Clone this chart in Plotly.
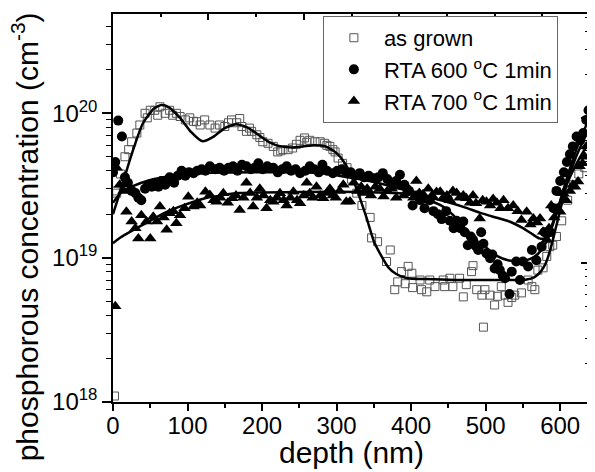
import plotly.graph_objects as go

# ---------------- data ----------------
grown_depth = [2, 3, 5, 10, 16, 21, 25, 32, 36, 43, 46, 50, 56, 60, 63, 70, 76, 80, 85, 90, 97, 103, 108,
               112, 117, 123, 130, 137, 143, 150, 155, 159, 166, 170, 173, 179, 183, 186, 193, 197, 201,
               208, 215, 221, 225, 228, 235, 241, 246, 251, 257, 260, 264, 271, 278, 284, 287, 291, 295,
               298, 302, 308, 314, 320, 327, 334, 345, 347, 355, 367, 372, 378, 382, 387, 392, 396, 401,
               402, 412, 414, 421, 425, 432, 443, 445, 452, 456, 465, 470, 474, 481, 483, 488, 495, 497,
               499, 506, 512, 516, 521, 526, 530, 535, 539, 548, 557, 562, 566, 570, 577, 582, 586, 590,
               595, 602, 610, 618, 625, 633]
grown_conc = [1.1e18, 2.9e19, 2.8e19, 3.8e19, 5.0e19, 5.6e19, 6.35e19, 7.3e19, 8.3e19, 1.0e20, 9.3e19,
              1.05e20, 1.05e20, 9.7e19, 1.11e20, 1.0e20, 1.05e20, 9.7e19, 1.0e20, 9.5e19, 9.0e19, 9.3e19,
              8.8e19, 8.75e19, 8.3e19, 9.0e19, 8.3e19, 7.9e19, 8.3e19, 8.1e19, 8.6e19, 9.0e19, 8.6e19,
              9.2e19, 8.1e19, 7.5e19, 7.9e19, 7.5e19, 7.1e19, 6.8e19, 6.35e19, 6.2e19, 5.9e19, 5.4e19,
              5.5e19, 5.6e19, 5.6e19, 5.75e19, 6.1e19, 6.5e19, 6.75e19, 6.3e19, 6.5e19, 6.35e19, 6.35e19,
              6.2e19, 6.0e19, 5.9e19, 5.6e19, 5.4e19, 4.9e19, 4.5e19, 4.2e19, 3.5e19, 2.8e19, 2.3e19,
              1.9e19, 1.37e19, 1.29e19, 9.4e18, 1.13e19, 6.0e18, 6.8e18, 8.0e18, 6.6e18, 8.7e18, 7.8e18,
              6.2e18, 7.0e18, 6.0e18, 5.8e18, 7.0e18, 6.3e18, 7.0e18, 6.3e18, 7.2e18, 6.3e18, 7.2e18,
              5.35e18, 6.5e18, 8.0e18, 8.8e18, 6.0e18, 5.5e18, 3.3e18, 6.0e18, 5.5e18, 4.7e18, 5.4e18,
              6.3e18, 5.5e18, 4.9e18, 5.3e18, 5.5e18, 5.7e18, 7.0e18, 6.3e18, 6.0e18, 8.2e18, 8.5e18,
              1.02e19, 1.19e19, 1.22e19, 1.4e19, 1.8e19, 2.5e19, 3.2e19, 3.8e19, 4.2e19]

rta600_depth = [0, 3, 7, 12, 16, 20, 25, 30, 34, 38, 43, 47, 52, 56, 61, 65, 70, 76, 82, 87, 92, 97, 102,
                108, 113, 119, 124, 130, 137, 143, 149, 155, 161, 167, 173, 179, 185, 190, 195, 201, 207,
                215, 221, 227, 233, 239, 245, 251, 258, 264, 270, 276, 281, 287, 295, 301, 307, 313, 319,
                325, 331, 337, 343, 350, 356, 362, 368, 374, 380, 385, 391, 397, 402, 407, 412, 418, 425,
                430, 436, 441, 447, 452, 457, 461, 466, 470, 472, 476, 480, 483, 487, 490, 494, 497, 501,
                506, 509, 512, 516, 519, 523, 526, 532, 535, 541, 546, 550, 557, 562, 568, 575, 579, 586,
                591, 595, 600, 605, 609, 613, 617, 622, 627, 631, 635, 638]
rta600_conc = [3.9e19, 4.6e19, 8.9e19, 6.9e19, 3.6e19, 3.3e19, 2.9e19, 2.8e19, 2.6e19, 2.5e19, 3.0e19,
               3.2e19, 3.1e19, 3.3e19, 3.1e19, 3.4e19, 3.2e19, 3.6e19, 3.3e19, 3.7e19, 4.0e19, 3.7e19,
               3.9e19, 3.85e19, 4.0e19, 4.1e19, 4.0e19, 4.3e19, 4.1e19, 4.2e19, 4.0e19, 4.2e19, 4.3e19,
               4.0e19, 4.4e19, 4.3e19, 4.1e19, 4.2e19, 4.5e19, 4.1e19, 4.3e19, 4.2e19, 3.9e19, 4.1e19,
               4.3e19, 4.0e19, 4.1e19, 3.85e19, 4.0e19, 4.3e19, 4.1e19, 3.9e19, 4.4e19, 4.0e19, 3.85e19,
               4.0e19, 4.1e19, 3.85e19, 3.9e19, 3.7e19, 3.85e19, 3.6e19, 3.7e19, 3.55e19, 3.6e19, 3.85e19,
               3.5e19, 3.3e19, 3.4e19, 3.75e19, 3.2e19, 2.9e19, 2.3e19, 2.7e19, 2.5e19, 2.2e19, 2.5e19,
               2.1e19, 2.0e19, 1.85e19, 2.1e19, 1.8e19, 1.6e19, 1.8e19, 1.6e19, 1.78e19, 1.5e19, 1.22e19,
               1.4e19, 1.33e19, 1.2e19, 1.13e19, 1.5e19, 1.25e19, 1.07e19, 9.9e18, 1.05e19, 8.4e18, 9.0e18,
               8.2e18, 7.5e18, 7.2e18, 5.6e18, 8.0e18, 9.4e18, 7.0e18, 9.4e18, 8.7e18, 1.13e19, 9.6e18,
               1.19e19, 1.5e19, 1.5e19, 2.2e19, 2.9e19, 3.4e19, 3.9e19, 4.6e19, 5.2e19, 5.9e19, 6.9e19,
               6.5e19, 7.3e19, 9.0e19, 1.05e20]

rta700_depth = [3, 5, 9, 14, 18, 25, 30, 34, 38, 45, 50, 54, 59, 63, 68, 72, 76, 81, 85, 90, 96, 101, 108,
                113, 117, 124, 130, 135, 139, 144, 148, 154, 160, 165, 170, 175, 179, 184, 188, 193, 197,
                202, 206, 211, 215, 220, 224, 229, 233, 238, 242, 247, 251, 256, 260, 264, 268, 273, 278,
                282, 287, 291, 295, 299, 304, 309, 313, 318, 323, 328, 333, 336, 341, 346, 352, 358, 363,
                368, 374, 380, 385, 390, 398, 403, 407, 411, 416, 420, 423, 428, 434, 439, 443, 448, 452,
                456, 461, 465, 470, 474, 479, 483, 487, 492, 496, 501, 506, 510, 515, 520, 524, 530, 537,
                543, 548, 555, 560, 564, 569, 573, 577, 582, 585, 588, 592, 596, 600, 604, 608, 613, 617,
                620, 624, 626, 630, 633, 635]
rta700_conc = [4.6e18, 4.2e19, 3.2e19, 2.9e19, 2.08e19, 1.78e19, 1.6e19, 1.36e19, 1.97e19, 1.78e19,
               1.36e19, 1.92e19, 1.78e19, 2.26e19, 1.9e19, 1.56e19, 2.03e19, 2.1e19, 1.73e19, 1.97e19,
               2.2e19, 2.64e19, 2.26e19, 2.4e19, 2.3e19, 2.86e19, 2.72e19, 2.5e19, 2.44e19, 2.6e19,
               2.79e19, 2.4e19, 2.58e19, 2.7e19, 2.14e19, 2.6e19, 3.3e19, 2.8e19, 2.26e19, 2.6e19, 3.0e19,
               2.7e19, 2.2e19, 2.5e19, 2.44e19, 2.6e19, 2.79e19, 2.5e19, 2.3e19, 2.6e19, 2.86e19, 2.5e19,
               2.38e19, 2.7e19, 3.3e19, 2.79e19, 2.6e19, 3.1e19, 2.7e19, 2.58e19, 2.8e19, 3.0e19, 2.7e19,
               2.6e19, 2.9e19, 3.2e19, 2.44e19, 2.45e19, 3.3e19, 2.9e19, 3.1e19, 2.8e19, 3.0e19, 2.7e19,
               3.1e19, 3.0e19, 2.65e19, 2.9e19, 3.0e19, 2.6e19, 3.1e19, 2.7e19, 2.94e19, 2.6e19, 3.4e19,
               2.8e19, 2.75e19, 2.5e19, 3.0e19, 2.7e19, 2.85e19, 2.86e19, 2.6e19, 2.7e19, 2.5e19, 2.9e19,
               2.8e19, 2.6e19, 2.7e19, 2.58e19, 2.4e19, 2.7e19, 2.38e19, 1.87e19, 2.5e19, 2.44e19, 2.3e19,
               2.55e19, 2.4e19, 2.2e19, 2.5e19, 2.2e19, 2.3e19, 2.1e19, 1.82e19, 2.08e19, 1.7e19, 1.87e19,
               1.75e19, 1.87e19, 1.51e19, 1.33e19, 1.6e19, 2.3e19, 1.9e19, 2.2e19, 2.08e19, 2.79e19, 2.5e19,
               2.9e19, 3.2e19, 3.1e19, 3.37e19, 4.3e19, 4.5e19, 5.0e19, 5.9e19]

fit_grown_depth = [0, 7, 14, 25, 40, 55, 65, 75, 90, 105, 120, 135, 150, 165, 180, 195, 210, 225, 240, 255,
                   270, 285, 300, 310, 320, 330, 340, 350, 360, 370, 380, 395, 420, 460, 500, 540, 555, 565,
                   573, 580, 586, 592, 597, 602, 610, 620, 630, 640]
fit_grown_conc = [2.0e19, 2.6e19, 3.4e19, 5.2e19, 8.5e19, 1.08e20, 1.14e20, 1.1e20, 9.3e19, 7.4e19, 6.4e19,
                  6.9e19, 7.9e19, 8.4e19, 8.0e19, 7.1e19, 6.3e19, 5.9e19, 5.8e19, 5.9e19, 6.0e19, 5.9e19,
                  5.3e19, 4.6e19, 3.7e19, 2.7e19, 1.9e19, 1.3e19, 1.03e19, 8.5e18, 7.7e18, 7.2e18, 7.1e18,
                  7.0e18, 7.0e18, 7.0e18, 7.05e18, 7.3e18, 7.9e18, 9.0e18, 1.1e19, 1.45e19, 1.85e19,
                  2.35e19, 3.4e19, 4.8e19, 6.3e19, 8.0e19]

fit600_depth = [0, 10, 25, 50, 80, 120, 200, 280, 330, 360, 390, 412, 440, 455, 470, 485, 500, 515, 530,
                545, 560, 570, 578, 585, 591, 597, 603, 610, 620, 630, 640]
fit600_conc = [2.4e19, 2.8e19, 3.1e19, 3.45e19, 3.7e19, 3.85e19, 3.9e19, 3.85e19, 3.5e19, 3.25e19,
               2.95e19, 2.65e19, 2.3e19, 2.0e19, 1.65e19, 1.35e19, 1.18e19, 1.03e19, 9.6e18, 9.4e18,
               9.8e18, 1.06e19, 1.2e19, 1.42e19, 1.75e19, 2.2e19, 2.8e19, 3.7e19, 5.3e19, 7.2e19, 9.5e19]

fit700_depth = [0, 10, 27, 50, 70, 94, 120, 145, 170, 250, 330, 400, 440, 470, 492, 510, 532, 550, 563,
                572, 579, 585, 591, 597, 604, 615, 625, 640]
fit700_conc = [1.26e19, 1.38e19, 1.55e19, 1.8e19, 2.05e19, 2.3e19, 2.55e19, 2.7e19, 2.8e19, 2.85e19,
               2.85e19, 2.75e19, 2.5e19, 2.25e19, 2.05e19, 1.92e19, 1.78e19, 1.6e19, 1.45e19, 1.36e19,
               1.36e19, 1.5e19, 1.8e19, 2.2e19, 2.8e19, 3.8e19, 4.8e19, 6.5e19]

series_names = ["as grown", "RTA 600 <sup>o</sup>C 1min", "RTA 700 <sup>o</sup>C 1min"]
y_tickvals = [1e18, 1e19, 1e20]
y_ticktext = ["10<sup>18</sup>", "10<sup>19</sup>", "10<sup>20</sup>"]
x_title = "depth (nm)"
y_title = "phosphorous concentration (cm<sup>-3</sup>)"

# ---------------- figure ----------------
FONT = "Liberation Sans, Arial, sans-serif"
fig = go.Figure()

fig.add_trace(go.Scatter(x=grown_depth, y=grown_conc, mode="markers", name=series_names[0],
                         marker=dict(symbol="square-open", size=8, color="#555555",
                                     line=dict(width=1, color="#555555"))))
fig.add_trace(go.Scatter(x=rta600_depth, y=rta600_conc, mode="markers", name=series_names[1],
                         marker=dict(symbol="circle", size=10, color="black")))
fig.add_trace(go.Scatter(x=rta700_depth, y=rta700_conc, mode="markers", name=series_names[2],
                         marker=dict(symbol="triangle-up", size=11, color="black")))

for fx, fy in [(fit_grown_depth, fit_grown_conc), (fit600_depth, fit600_conc), (fit700_depth, fit700_conc)]:
    fig.add_trace(go.Scatter(x=fx, y=fy, mode="lines", showlegend=False, hoverinfo="skip",
                             line=dict(color="black", width=2.5, shape="spline", smoothing=0.6)))

# invisible trace to activate the mirror axes (top / right)
fig.add_trace(go.Scatter(x=[None], y=[None], xaxis="x2", yaxis="y2", showlegend=False))

YR = [18, 20.688]
fig.update_layout(
    width=587, height=464,
    margin=dict(l=105, r=5, t=6, b=70),
    paper_bgcolor="white", plot_bgcolor="white",
    font=dict(family=FONT, color="black"),
    showlegend=True,
    legend=dict(x=0.44, y=0.995, xanchor="left", yanchor="top",
                bgcolor="white", bordercolor="#666666", borderwidth=1,
                font=dict(size=22, family=FONT), tracegroupgap=0, itemwidth=50),
    xaxis=dict(range=[0, 640], automargin=False, showline=True, linecolor="black", linewidth=1.5,
               ticks="outside", ticklen=7, tickwidth=1.5, tickcolor="black",
               tick0=0, dtick=100, showgrid=False, zeroline=False, ticklabelstandoff=-6,
               tickfont=dict(size=24, family=FONT),
               minor=dict(ticks="outside", ticklen=4, tickwidth=1.5, tickcolor="black", dtick=50,
                          showgrid=False)),
    yaxis=dict(type="log", range=YR, automargin=False, showline=True, linecolor="black", linewidth=1.5,
               ticks="outside", ticklen=9, tickwidth=1.5, tickcolor="black",
               tickvals=y_tickvals, ticktext=y_ticktext, showgrid=False, zeroline=False,
               tickfont=dict(size=24, family=FONT),
               minor=dict(ticks="outside", ticklen=5, tickwidth=1.2, tickcolor="black",
                          dtick="D1", showgrid=False)),
    xaxis2=dict(overlaying="x", side="top", range=[0, 640], automargin=False, showline=True,
                linecolor="black", linewidth=1.5, ticks="inside", ticklen=6, tickwidth=1.5,
                tickcolor="black", tick0=0, dtick=128, showticklabels=False, showgrid=False,
                zeroline=False,
                minor=dict(ticks="inside", ticklen=3, tickwidth=1.5, tickcolor="black", dtick=64,
                           showgrid=False)),
    yaxis2=dict(overlaying="y", side="right", type="log", range=[18.035, 20.722], automargin=False,
                showline=True, linecolor="black", linewidth=1.5, ticks="inside", ticklen=9,
                tickwidth=1.5, tickcolor="black", tickvals=y_tickvals, showticklabels=False,
                showgrid=False, zeroline=False,
                minor=dict(ticks="inside", ticklen=5, tickwidth=1.2, tickcolor="black",
                           dtick="D1", showgrid=False)),
    annotations=[
        dict(text=x_title, xref="paper", yref="paper", x=0.5, y=-0.131, xanchor="center",
             yanchor="middle", showarrow=False, font=dict(size=30, family=FONT)),
        dict(text=y_title, xref="paper", yref="paper", x=-0.184, y=0.425, xanchor="center",
             yanchor="middle", textangle=-90, showarrow=False, font=dict(size=30, family=FONT)),
    ],
)

fig.write_html("out.html")
